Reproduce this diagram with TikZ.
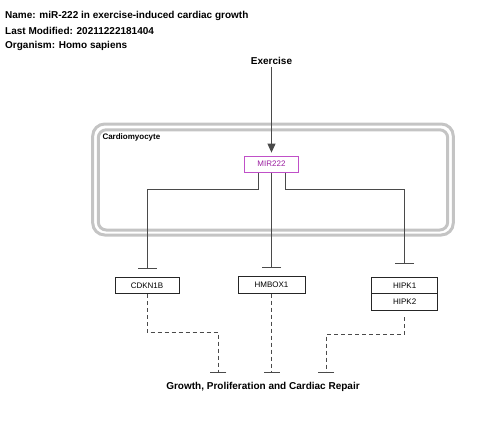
\documentclass[tikz,border=0pt]{standalone}
\usepackage{fontspec}
\setmainfont{Liberation Sans}
\usetikzlibrary{arrows.meta}
\definecolor{linec}{HTML}{4A4A4A}
\definecolor{compc}{HTML}{C4C4C4}
\definecolor{mirc}{HTML}{C050C8}
\definecolor{mirtext}{HTML}{9A1FA0}
\begin{document}
\begin{tikzpicture}[x=1pt,y=-1pt,
  titletext/.style={anchor=west,inner sep=0pt,font=\fontsize{10}{12}\selectfont\bfseries},
  boldlabel/.style={inner sep=0pt,font=\fontsize{10}{12}\selectfont\bfseries},
  gene/.style={draw=black!85,line width=0.9pt,minimum width=66pt,minimum height=16.5pt,inner sep=0pt,font=\fontsize{8}{10}\selectfont},
  inh/.style={draw=linec,line width=0.9pt,-{Bar[width=19pt,line width=1.1pt]}},
  dinh/.style={draw=linec,line width=0.9pt,dash pattern=on 4pt off 3pt,-{Bar[width=16pt,line width=1.1pt]}},
  comp/.style={draw=compc,line width=3pt},
  act/.style={draw=linec,line width=0.9pt,-{Triangle[width=8pt,length=9pt]}}
]
\useasboundingbox (0,0) rectangle (480,421);
\node[titletext] (t1) at (5,15.5) {Name: miR-222 in exercise-induced cardiac growth};
\node[titletext] (t2) at (5,31) {Last Modified: 20211222181404};
\node[titletext] (t3) at (5,46) {Organism: Homo sapiens};

% compartment
\draw[comp,rounded corners=12pt] (92.7,124) rectangle (453.3,235);
\draw[comp,rounded corners=8pt] (98.3,129.8) rectangle (447.7,230);
\node[anchor=west,inner sep=0pt,font=\fontsize{8}{10}\selectfont\bfseries] (cardio) at (102.3,137.5) {Cardiomyocyte};

\node[boldlabel] (ex) at (271.5,61) {Exercise};
\node[draw=mirc,line width=0.9pt,text=mirtext,minimum width=54pt,minimum height=16.3pt,inner sep=0pt,font=\fontsize{8}{10}\selectfont] (mir) at (271.5,164.2) {MIR222};

\node[gene,minimum width=64pt] (cdkn) at (147,285.3) {CDKN1B};
\node[gene,minimum width=67pt,minimum height=17pt] (hmbox) at (271.5,284.7) {HMBOX1};
\node[gene] (hipk1) at (404.7,285.3) {HIPK1};
\node[gene] (hipk2) at (404.7,301.7) {HIPK2};

\node[boldlabel] (growth) at (263,387.3) {Growth, Proliferation and Cardiac Repair};
\coordinate (g1) at (218.3,373.3);
\coordinate (g2) at (271.5,373.3);
\coordinate (g3) at (326,373.3);

\draw[act,shorten >=3pt] (ex.south) ++(0,2) -- (mir.north);
\draw[inh,shorten >=8pt] ([xshift=-13.5pt]mir.south) -- ++(0,17) -| (cdkn.north);
\draw[inh,shorten >=8pt] (mir.south) -- (hmbox.north);
\draw[inh,shorten >=13pt] ([xshift=13.5pt]mir.south) -- ++(0,17) -| (hipk1.north);

\draw[dinh] (cdkn.south) -- ++(0,38.5) -| (g1);
\draw[dinh] (hmbox.south) -- (g2);
\draw[dinh] ([yshift=-7pt]hipk2.south) -- ++(0,17) -| (g3);
\end{tikzpicture}
\end{document}
